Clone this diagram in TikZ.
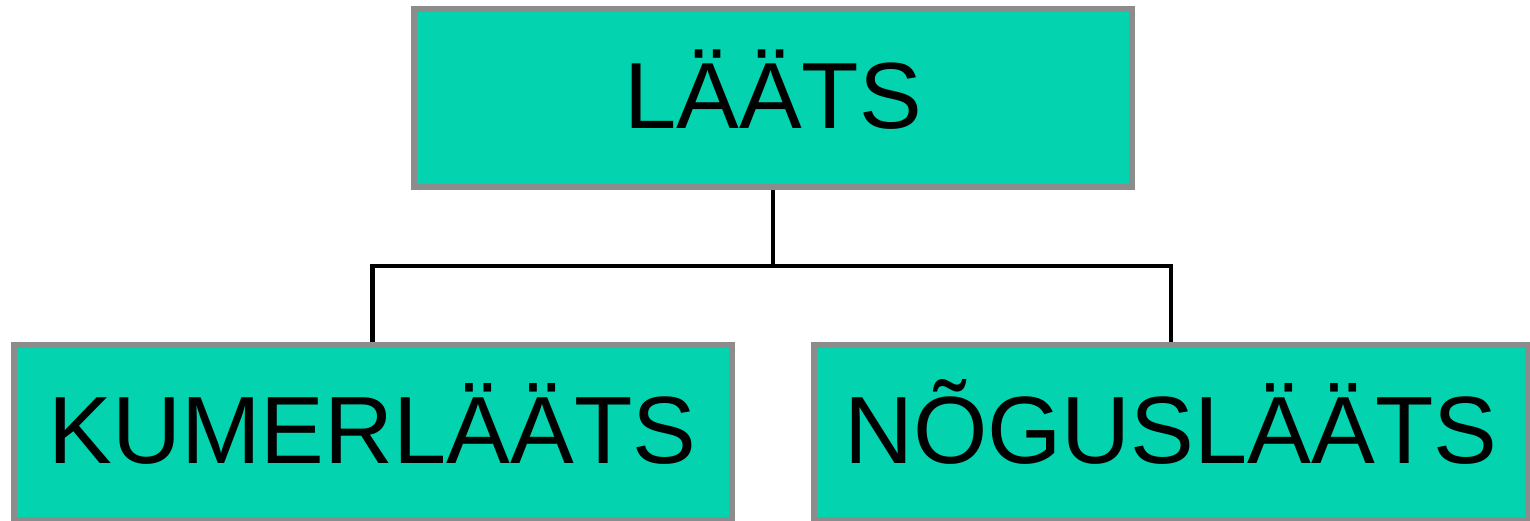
\documentclass[tikz,border=0pt]{standalone}
\usepackage{fontspec}
\setmainfont{Liberation Sans}
\definecolor{lensfill}{RGB}{4,211,175}
\definecolor{lensedge}{RGB}{140,140,140}
\begin{document}
\begin{tikzpicture}[x=1pt,y=-1pt,
  box/.style={draw=lensedge,line width=6pt,fill=lensfill,inner sep=0pt,
    text height=80pt,text depth=18pt,
    font=\fontsize{94}{110}\selectfont,text=black},
  subbox/.style={box,minimum height=174.5pt,
    font=\fontsize{95.6}{110}\selectfont},
  link/.style={draw=black,line width=4.3pt,line join=miter}]
  \useasboundingbox (0,0) rectangle (1530,521);
  % top level
  \node[box,minimum width=718pt,minimum height=178pt] (lens) at (773,98) {LÄÄTS};
  % two kinds of lenses
  \node[subbox,minimum width=718pt] (convex) at (372.5,432.25) {KUMERLÄÄTS};
  \node[subbox,minimum width=714.5pt] (concave) at (1170.75,432.25) {NÕGUSLÄÄTS};
  \coordinate (hub) at (773,266);
  \draw[link] (lens.south) -- (hub);
  \draw[link] (convex.north) |- (hub) -| (concave.north);
\end{tikzpicture}
\end{document}
